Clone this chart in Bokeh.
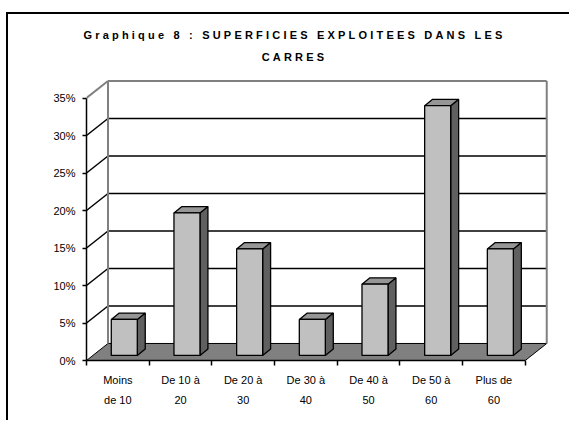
from bokeh.plotting import figure
from bokeh.models import FixedTicker, LinearAxis, PrintfTickFormatter, Range1d, Div
from bokeh.layouts import column
from bokeh.embed import file_html
from bokeh.resources import INLINE

# ---- data ----
categories_line1 = ["Moins", "De 10 à", "De 20 à", "De 30 à", "De 40 à", "De 50 à", "Plus de"]
categories_line2 = ["de 10", "20", "30", "40", "50", "60", "60"]
shares = [4.8, 19.0, 14.2, 4.8, 9.5, 33.3, 14.2]   # percent
y_ticks = [0, 5, 10, 15, 20, 25, 30, 35]
title_lines = ["Graphique 8 : SUPERFICIES EXPLOITEES DANS LES", "CARRES"]

FONT = "Liberation Sans"
n = len(shares)
y_max = y_ticks[-1]
DX, DY = 0.343, 2.27            # depth of the 3D box (x in categories, y in percent)
X_END = n + DX + 0.06
Y_END = y_max + DY + 0.33

title_div = Div(
    text=('<div style="width:561px;text-align:center;padding-top:10px;padding-left:12px;'
          'box-sizing:border-box;font-family:\'Liberation Sans\',Arial,sans-serif;'
          'font-weight:bold;font-size:11px;line-height:22px;letter-spacing:3.2px;color:black;">'
          + "<br>".join(title_lines) + "</div>"),
    width=561, height=50, margin=(0, 0, 0, 0))

p = figure(width=561, height=356, output_backend="svg", toolbar_location=None,
           x_range=Range1d(0, X_END), y_range=Range1d(0, Y_END),
           min_border_left=78, min_border_right=19, min_border_top=14, min_border_bottom=60,
           margin=(0, 0, 0, 0))
p.outline_line_color = None
p.grid.visible = False
p.background_fill_color = "white"
p.border_fill_color = "white"

# floor
p.patch([0, n, n + DX, DX], [0, 0, DY, DY], fill_color="#808080",
        line_color="black", line_width=1)

# gridlines on back wall and left wall
grid_vals = [t for t in y_ticks if 0 < t < y_max]
p.multi_line([[DX, n + DX] for _ in grid_vals], [[t + DY, t + DY] for t in grid_vals],
             line_color="black", line_width=1.5)
p.multi_line([[0, DX] for _ in grid_vals], [[t, t + DY] for t in grid_vals],
             line_color="black", line_width=1.5)
# wall outlines (grey)
p.multi_line([[DX, n + DX], [DX, DX], [n + DX, n + DX], [0, DX]],
             [[y_max + DY, y_max + DY], [DY, y_max + DY], [DY, y_max + DY], [y_max, y_max + DY]],
             line_color="#808080", line_width=2)

# 3D bars
hw = 0.2075
fx, fy = 0.3 * DX, 0.3 * DY
bx, by = 0.37 * DX, 0.37 * DY
left = [i + 0.5 - hw + fx for i in range(n)]
right = [i + 0.5 + hw + fx for i in range(n)]
bottom = [fy] * n
top = [v + fy for v in shares]

side_xs = [[r, r + bx, r + bx, r] for r in right]
side_ys = [[fy, fy + by, t + by, t] for t in top]
top_xs = [[l, r, r + bx, l + bx] for l, r in zip(left, right)]
top_ys = [[t, t, t + by, t + by] for t in top]

p.patches(side_xs, side_ys, fill_color="#606060", line_color="black", line_width=1.3)
p.patches(top_xs, top_ys, fill_color="#969696", line_color="black", line_width=1.3)
p.quad(left=left, right=right, bottom=bottom, top=top, fill_color="#C0C0C0",
       line_color="black", line_width=1.3)

# y axis
ya = p.yaxis[0]
ya.ticker = FixedTicker(ticks=y_ticks)
ya.formatter = PrintfTickFormatter(format="%d%%")
ya.bounds = (0, y_max)
ya.axis_line_width = 1.5
ya.axis_line_color = "black"
ya.major_tick_out = 4
ya.major_tick_in = 0
ya.major_tick_line_width = 1.5
ya.minor_tick_line_color = None
ya.major_label_standoff = 7
ya.major_label_text_font = FONT
ya.major_label_text_font_size = "11px"
ya.major_label_text_color = "black"

centers = [i + 0.5 for i in range(n)]
bounds_ticks = list(range(n + 1))

xa = p.xaxis[0]
xa.ticker = FixedTicker(ticks=centers, minor_ticks=bounds_ticks)
xa.bounds = (0, n)
xa.axis_line_width = 1.5
xa.axis_line_color = "black"
xa.major_tick_line_color = None
xa.major_tick_out = 5
xa.major_tick_in = 0
xa.minor_tick_out = 5
xa.minor_tick_in = 0
xa.minor_tick_line_width = 1.5
xa.minor_tick_line_color = "black"
xa.major_label_standoff = 8
xa.major_label_overrides = {c: s for c, s in zip(centers, categories_line1)}
xa.major_label_text_font = FONT
xa.major_label_text_font_size = "11px"
xa.major_label_text_color = "black"

xb = LinearAxis(ticker=FixedTicker(ticks=centers))
xb.axis_line_color = None
xb.major_tick_line_color = None
xb.minor_tick_line_color = None
xb.major_tick_out = 0
xb.major_tick_in = 0
xb.minor_tick_out = 0
xb.major_label_standoff = 5
xb.major_label_overrides = {c: s for c, s in zip(centers, categories_line2)}
xb.major_label_text_font = FONT
xb.major_label_text_font_size = "11px"
xb.major_label_text_color = "black"
p.add_layout(xb, "below")

layout = column(title_div, p, spacing=0)
layout.styles = {"border-top": "2px solid black", "border-left": "2px solid black",
                 "margin-top": "12px", "margin-left": "6px"}

open("out.html", "w").write(file_html(layout, INLINE))
